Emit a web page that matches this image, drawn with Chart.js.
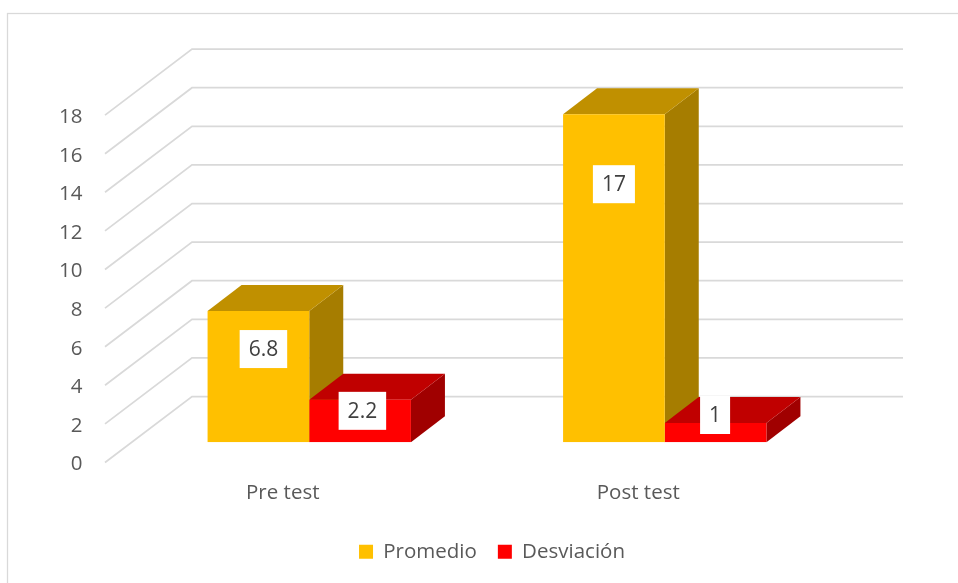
<!DOCTYPE html>
<html>
<head>
<meta charset="utf-8">
<style>
  html, body { margin: 0; padding: 0; background: #fff; }
  canvas { display: block; }
</style>
<script src="https://cdn.jsdelivr.net/npm/chart.js@4"></script>
</head>
<body>
<canvas id="chart" width="958" height="583"></canvas>
<script>
const categories = ['Pre test', 'Post test'];
const promedio = [6.8, 17];
const desviacion = [2.2, 1];
const seriesNames = ['Promedio', 'Desviación'];

const FONT = '"Open Sans", sans-serif';
const GRID = '#d9d9d9';
// front, top, side of each series
const SHADES = [
  ['#ffc000', '#c09000', '#a67d00'],
  ['#ff0000', '#c00000', '#a00000'],
];
const WALL = { dx: 87, dy: -66 };      // depth of the floor
const BAR_SHIFT = { dx: 26.5, dy: -20.2 }; // bars stand inside the depth
const BAR_DEPTH = { dx: 34, dy: -26 };
// the labels were moved by hand in the original: [dx, dy] from the top centre of the bar
const LABEL_NUDGE = [
  [[5, 38], [2.3, 11]],
  [[0, 70], [-0.5, -8]],
];

function poly(ctx, color, pts) {
  ctx.fillStyle = color;
  ctx.beginPath();
  pts.forEach((p, i) => i ? ctx.lineTo(p[0], p[1]) : ctx.moveTo(p[0], p[1]));
  ctx.closePath();
  ctx.fill();
}

const bars3d = {
  id: 'bars3d',
  beforeDatasetsDraw(chart) {
    const { ctx, chartArea, scales } = chart;

    // chart frame, only top and left show in the original
    ctx.save();
    ctx.strokeStyle = GRID;
    ctx.lineWidth = 1.25;
    ctx.strokeRect(7.5, 13.5, 980, 600);

    // side wall + back wall
    ctx.lineWidth = 1.75;
    scales.y.ticks.forEach(t => {
      const y = scales.y.getPixelForValue(t.value);
      ctx.beginPath();
      ctx.moveTo(chartArea.left, y);
      ctx.lineTo(chartArea.left + WALL.dx, y + WALL.dy);
      ctx.lineTo(chartArea.right + WALL.dx, y + WALL.dy);
      ctx.stroke();
    });
    ctx.restore();

    // everything until afterDatasetsDraw sits on the shifted plane
    ctx.save();
    ctx.translate(BAR_SHIFT.dx, BAR_SHIFT.dy);
    const d = BAR_DEPTH;
    chart.data.datasets.forEach((ds, i) => {
      chart.getDatasetMeta(i).data.forEach(bar => {
        const l = bar.x - bar.width / 2, r = bar.x + bar.width / 2;
        const top = bar.y, base = bar.base;
        poly(ctx, SHADES[i][2], [[r, top], [r + d.dx, top + d.dy], [r + d.dx, base + d.dy], [r, base]]);
        poly(ctx, SHADES[i][1], [[l, top], [l + d.dx, top + d.dy], [r + d.dx, top + d.dy], [r, top]]);
      });
    });
  },
  afterDatasetsDraw(chart) {
    const { ctx } = chart;
    ctx.restore();

    ctx.save();
    ctx.font = '21px ' + FONT;
    ctx.textAlign = 'center';
    ctx.textBaseline = 'middle';
    chart.data.datasets.forEach((ds, i) => {
      chart.getDatasetMeta(i).data.forEach((bar, j) => {
        const txt = String(ds.data[j]);
        const x = bar.x + BAR_SHIFT.dx + LABEL_NUDGE[j][i][0];
        const y = bar.y + BAR_SHIFT.dy + LABEL_NUDGE[j][i][1];
        const w = ctx.measureText(txt).width + 18;
        ctx.fillStyle = '#fff';
        ctx.fillRect(x - w / 2, y - 19, w, 38);
        ctx.fillStyle = '#404040';
        ctx.fillText(txt, x, y + 1);
      });
    });
    ctx.restore();
  },
};

new Chart(document.getElementById('chart'), {
  type: 'bar',
  data: {
    labels: categories,
    datasets: [
      { label: seriesNames[0], data: promedio, backgroundColor: SHADES[0][0] },
      { label: seriesNames[1], data: desviacion, backgroundColor: SHADES[1][0] },
    ],
  },
  options: {
    responsive: false,
    animation: false,
    layout: { padding: { left: 26, right: 0, top: 115.1, bottom: 11 } },
    datasets: { bar: { barPercentage: 1, categoryPercentage: 0.572, borderWidth: 0 } },
    scales: {
      x: {
        grid: { display: false },
        border: { display: false },
        ticks: { color: '#595959', font: { family: FONT, size: 20.5 }, padding: 10.5, maxRotation: 0 },
        afterFit(s) { s.height = 58; },
      },
      y: {
        min: 0,
        max: 18,
        grid: { display: false },
        border: { display: false },
        ticks: { stepSize: 2, color: '#595959', font: { family: FONT, size: 20.5 }, padding: 14.5, labelOffset: 2 },
        afterFit(s) { s.width = 79; },
      },
      // empty axis, keeps the floor narrower than the legend row
      spacer: {
        type: 'linear',
        position: 'right',
        grid: { display: false },
        border: { display: false },
        ticks: { display: false },
        afterFit(s) { s.width = 142; },
      },
    },
    plugins: {
      tooltip: { enabled: false },
      legend: {
        position: 'bottom',
        labels: { boxWidth: 14, boxHeight: 14, padding: 21, color: '#595959', font: { family: FONT, size: 20.5 } },
      },
    },
  },
  plugins: [bars3d],
});
</script>
</body>
</html>
